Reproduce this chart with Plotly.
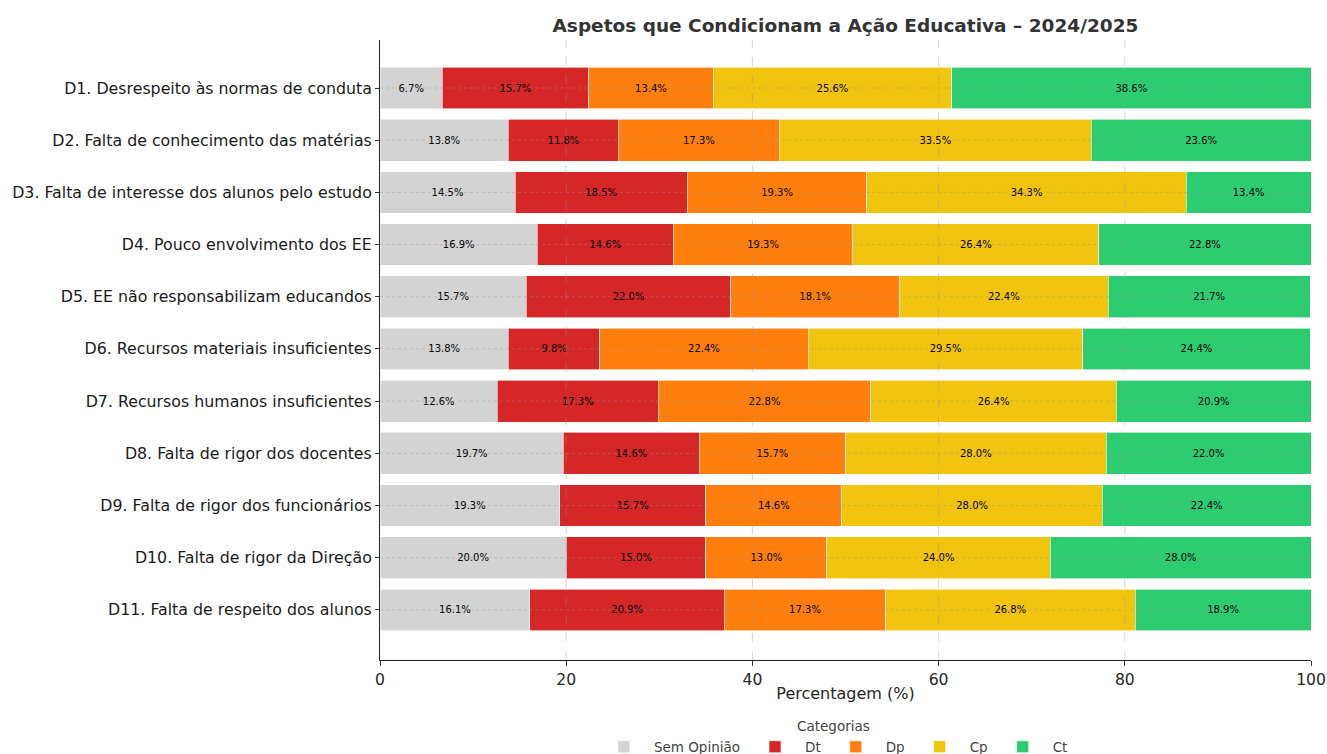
import plotly.graph_objects as go

categories = [
    "D1. Desrespeito às normas de conduta",
    "D2. Falta de conhecimento das matérias",
    "D3. Falta de interesse dos alunos pelo estudo",
    "D4. Pouco envolvimento dos EE",
    "D5. EE não responsabilizam educandos",
    "D6. Recursos materiais insuficientes",
    "D7. Recursos humanos insuficientes",
    "D8. Falta de rigor dos docentes",
    "D9. Falta de rigor dos funcionários",
    "D10. Falta de rigor da Direção",
    "D11. Falta de respeito dos alunos",
]
sem_opiniao = [6.7, 13.8, 14.5, 16.9, 15.7, 13.8, 12.6, 19.7, 19.3, 20.0, 16.1]
dt = [15.7, 11.8, 18.5, 14.6, 22.0, 9.8, 17.3, 14.6, 15.7, 15.0, 20.9]
dp = [13.4, 17.3, 19.3, 19.3, 18.1, 22.4, 22.8, 15.7, 14.6, 13.0, 17.3]
cp = [25.6, 33.5, 34.3, 26.4, 22.4, 29.5, 26.4, 28.0, 28.0, 24.0, 26.8]
ct = [38.6, 23.6, 13.4, 22.8, 21.7, 24.4, 20.9, 22.0, 22.4, 28.0, 18.9]
x_ticks = [0, 20, 40, 60, 80, 100]

series = [
    ("Sem Opinião", sem_opiniao, "#d3d3d3"),
    ("Dt", dt, "#d62728"),
    ("Dp", dp, "#ff7f0e"),
    ("Cp", cp, "#f1c40f"),
    ("Ct", ct, "#2ecc71"),
]

positions = list(range(len(categories)))

fig = go.Figure()
for name, vals, color in series:
    fig.add_trace(go.Bar(
        y=positions, x=vals, name=name, orientation="h",
        marker=dict(color=color, line=dict(color="white", width=0.6)),
        width=0.8,
        text=[f"{v:.1f}%" for v in vals],
        textposition="inside", insidetextanchor="middle",
        textfont=dict(size=10, color="black", family="DejaVu Sans"),
        constraintext="none",
        hoverinfo="x+name",
    ))

# grid lines drawn above the bars (as in the reference)
grid_col = "rgba(150,150,150,0.40)"
for xv in x_ticks[1:-1]:
    fig.add_shape(type="line", xref="x", yref="paper", x0=xv, x1=xv, y0=0, y1=1,
                  line=dict(color=grid_col, width=1, dash="dash"), layer="above")
for yv in positions:
    fig.add_shape(type="line", xref="paper", yref="y", x0=0, x1=1, y0=yv, y1=yv,
                  line=dict(color=grid_col, width=1, dash="dot"), layer="above")

fig.update_layout(
    barmode="stack",
    width=1327, height=754,
    margin=dict(l=380, r=16, t=40, b=94, autoexpand=False),
    paper_bgcolor="white", plot_bgcolor="white",
    font=dict(family="DejaVu Sans", color="#262626"),
    title=dict(text="<b>Aspetos que Condicionam a Ação Educativa – 2024/2025</b>",
               x=0.5, xref="paper", xanchor="center", y=0.966, yanchor="middle",
               font=dict(size=18.5, color="#333333")),
    bargap=0.2,
    legend=dict(
        orientation="h", x=0.487, xanchor="center", y=-0.087, yanchor="top",
        title=dict(text="Categorias", side="top center", font=dict(size=13.5, color="#444444")),
        font=dict(size=13.5, color="#444444"),
        traceorder="normal",
        itemwidth=50,
    ),
    xaxis=dict(
        range=[0, 100], tickvals=x_ticks,
        ticks="outside", ticklen=5, tickcolor="#333333",
        tickfont=dict(size=15.6, color="#262626"),
        title=dict(text="Percentagem (%)", font=dict(size=16, color="#262626"), standoff=0),
        showgrid=False,
        showline=True, linecolor="#222222", linewidth=1,
        zeroline=False, automargin=False,
    ),
    yaxis=dict(
        tickvals=positions, ticktext=categories,
        range=[10.96, -0.92],
        ticks="outside", ticklen=4, tickcolor="#333333",
        tickfont=dict(size=15.8, color="#1a1a1a"),
        showgrid=False,
        showline=True, linecolor="#222222", linewidth=1,
        zeroline=False, automargin=False,
    ),
)

fig.write_html("out.html", config={"displayModeBar": False},
               post_script="document.body.style.margin='0';document.body.style.padding='0';")
